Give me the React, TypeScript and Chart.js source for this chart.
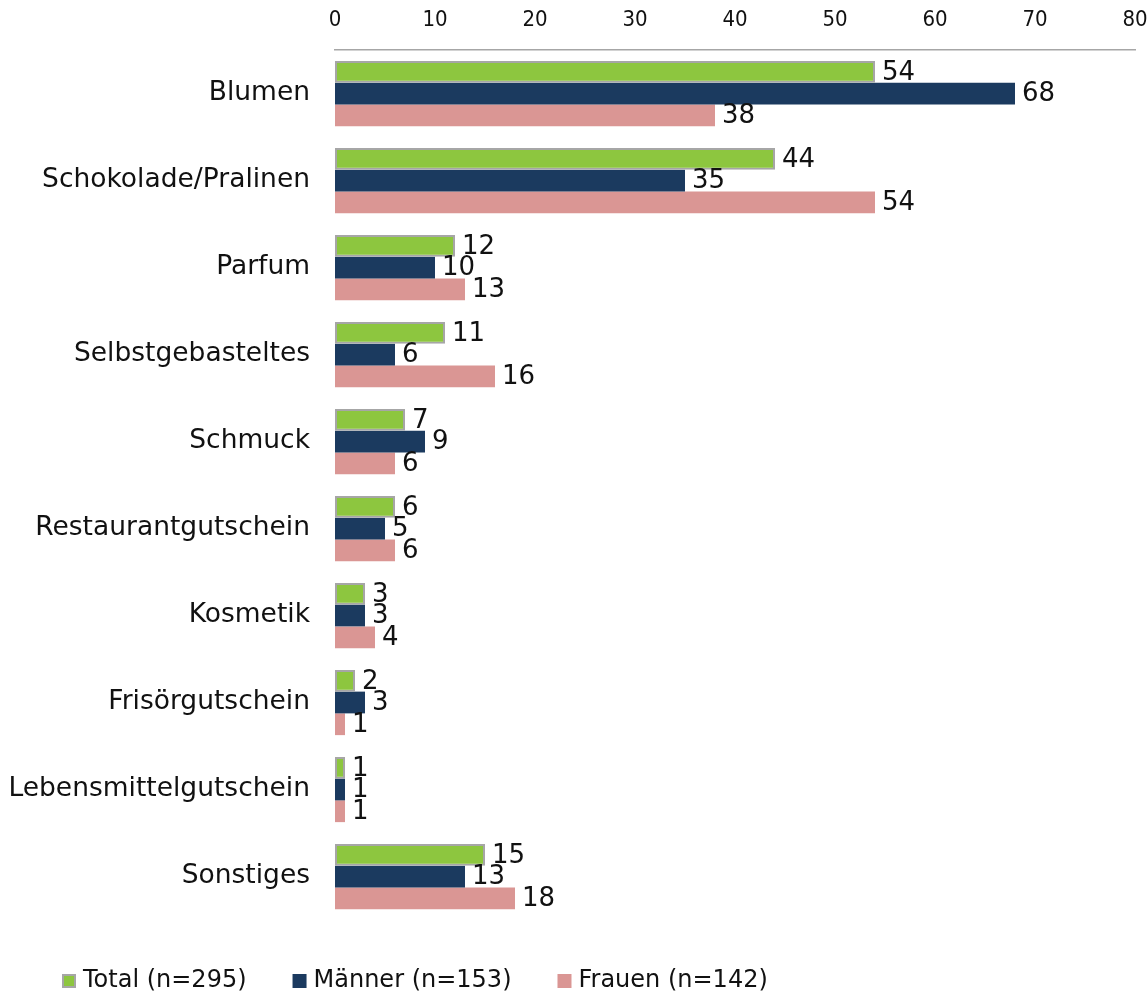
import React, { useEffect, useRef } from "react";
import { Chart, registerables } from "chart.js";

Chart.register(...registerables);

const categories = [
  "Blumen",
  "Schokolade/Pralinen",
  "Parfum",
  "Selbstgebasteltes",
  "Schmuck",
  "Restaurantgutschein",
  "Kosmetik",
  "Frisörgutschein",
  "Lebensmittelgutschein",
  "Sonstiges",
];

const totalValues = [54, 44, 12, 11, 7, 6, 3, 2, 1, 15];
const maennerValues = [68, 35, 10, 6, 9, 5, 3, 3, 1, 13];
const frauenValues = [38, 54, 13, 16, 6, 6, 4, 1, 1, 18];

const seriesLabels = ["Total (n=295)", "Männer (n=153)", "Frauen (n=142)"];
const xTicks = [0, 10, 20, 30, 40, 50, 60, 70, 80];

const FONT = "'DejaVu Sans', sans-serif";
const TICK_FONT = "'DejaVu Sans Condensed', 'DejaVu Sans', sans-serif";
const GREEN = "#8DC63F";
const NAVY = "#1B3A5F";
const PINK = "#DA9694";
const BORDER_GRAY = "#A6A6A6";
const TEXT = "#111111";

// Value labels to the right of every bar
const valueLabels = {
  id: "valueLabels",
  afterDatasetsDraw(chart: any) {
    const ctx = chart.ctx;
    ctx.save();
    ctx.font = `26px ${FONT}`;
    ctx.fillStyle = TEXT;
    ctx.textAlign = "left";
    ctx.textBaseline = "middle";
    chart.data.datasets.forEach((ds: any, di: number) => {
      const meta = chart.getDatasetMeta(di);
      meta.data.forEach((el: any, i: number) => {
        ctx.fillText(String(ds.data[i]), el.x + 7, el.y + 1);
      });
    });
    ctx.restore();
  },
};

// Legend row along the bottom edge
const bottomLegend = {
  id: "bottomLegend",
  afterDraw(chart: any) {
    const ctx = chart.ctx;
    ctx.save();
    ctx.font = `24px ${FONT}`;
    ctx.textBaseline = "middle";
    ctx.textAlign = "left";
    const y = chart.height - 19;
    let x = 62;
    chart.data.datasets.forEach((ds: any) => {
      ctx.fillStyle = ds.backgroundColor;
      ctx.fillRect(x, y - 7, 14, 14);
      if (ds.borderWidth) {
        ctx.strokeStyle = ds.borderColor;
        ctx.lineWidth = 2;
        ctx.strokeRect(x + 1, y - 6, 12, 12);
      }
      ctx.fillStyle = TEXT;
      const label = ds.label;
      ctx.fillText(label, x + 21, y);
      x += 21 + ctx.measureText(label).width + 46;
    });
    ctx.restore();
  },
};

export default function App() {
  const canvasRef = useRef<HTMLCanvasElement | null>(null);

  useEffect(() => {
    if (!canvasRef.current) return;
    const chart = new Chart(canvasRef.current, {
      type: "bar",
      data: {
        labels: categories,
        datasets: [
          {
            label: seriesLabels[0],
            data: totalValues,
            backgroundColor: GREEN,
            borderColor: BORDER_GRAY,
            borderWidth: 2,
            borderSkipped: false,
          },
          {
            label: seriesLabels[1],
            data: maennerValues,
            backgroundColor: NAVY,
            borderWidth: 0,
          },
          {
            label: seriesLabels[2],
            data: frauenValues,
            backgroundColor: PINK,
            borderWidth: 0,
          },
        ],
      },
      options: {
        indexAxis: "y",
        animation: false,
        responsive: false,
        maintainAspectRatio: false,
        layout: { padding: { left: 0, right: 13, top: 0, bottom: 80 } },
        datasets: {
          bar: { categoryPercentage: 0.75, barPercentage: 1.0 },
        },
        plugins: {
          legend: { display: false },
          tooltip: { enabled: false },
        },
        scales: {
          x: {
            position: "top",
            min: 0,
            max: 80,
            afterBuildTicks: (scale: any) => {
              scale.ticks = xTicks.map((v) => ({ value: v }));
            },
            afterFit: (scale: any) => {
              scale.height = 50;
              scale.paddingLeft = 0;
              scale.paddingRight = 0;
            },
            grid: { display: false, drawTicks: false },
            border: { display: true, color: BORDER_GRAY, width: 1.5 },
            ticks: {
              padding: 17,
              color: TEXT,
              font: { family: TICK_FONT, size: 22 },
            },
          },
          y: {
            afterFit: (scale: any) => {
              scale.width = 335;
              scale.paddingTop = 0;
              scale.paddingBottom = 0;
            },
            grid: { display: false, drawTicks: false },
            border: { display: false },
            ticks: {
              padding: 25,
              color: TEXT,
              font: { family: FONT, size: 26.5 },
            },
          },
        },
      },
      plugins: [valueLabels, bottomLegend],
    });
    return () => chart.destroy();
  }, []);

  return (
    <div style={{ position: "absolute", left: 0, top: 0, width: 1148, height: 1000, background: "#fff" }}>
      <canvas ref={canvasRef} width={1148} height={1000} style={{ width: 1148, height: 1000, display: "block" }} />
    </div>
  );
}
